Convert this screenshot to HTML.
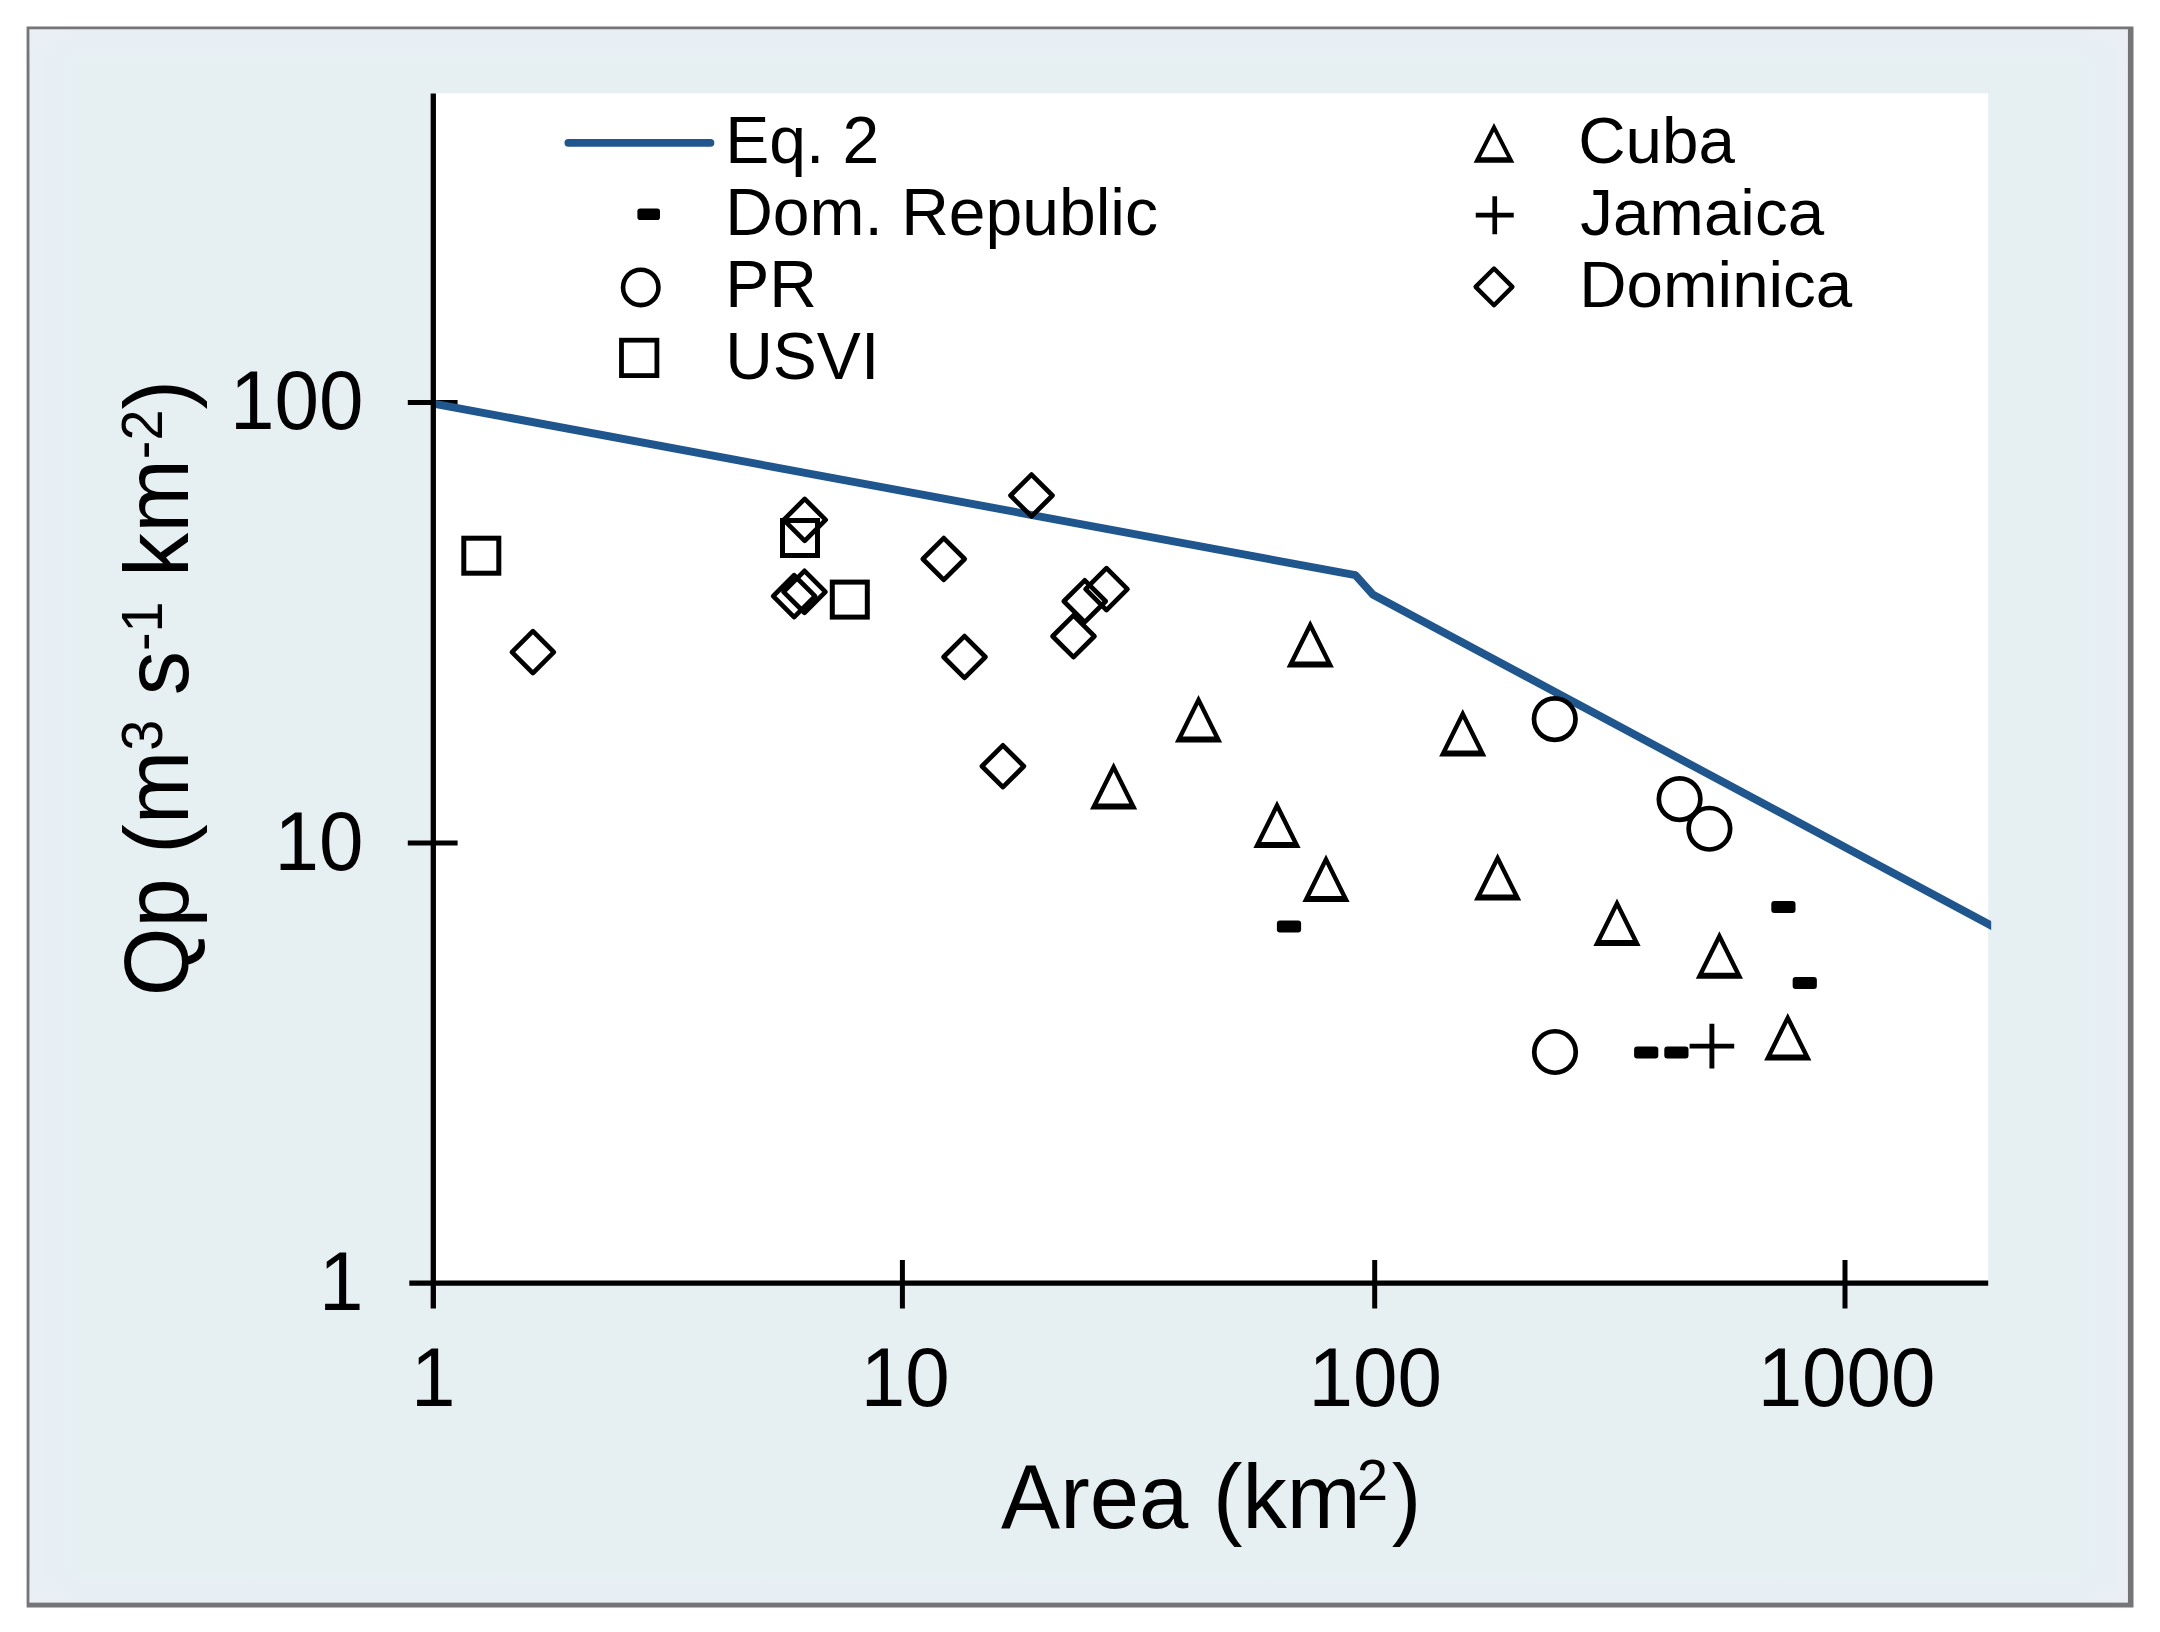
<!DOCTYPE html>
<html lang="en"><head><meta charset="utf-8"><title>Qp vs Area</title>
<style>html,body{margin:0;padding:0;background:#fff;}body{width:2160px;height:1632px;overflow:hidden;}svg{display:block;filter:blur(0.65px);}text{font-family:'Liberation Sans', sans-serif;fill:#000;}</style>
</head><body>
<svg width="2160" height="1632" viewBox="0 0 2160 1632">
<defs>
<linearGradient id="pg" x1="0" y1="0" x2="1" y2="0"><stop offset="0" stop-color="#e9eff5"/><stop offset="0.012" stop-color="#e7eff4"/><stop offset="0.025" stop-color="#e6f0f3"/><stop offset="0.975" stop-color="#e6f0f3"/><stop offset="0.99" stop-color="#e7eff4"/><stop offset="1" stop-color="#ebeff3"/></linearGradient>
<linearGradient id="tg" x1="0" y1="0" x2="0" y2="1"><stop offset="0" stop-color="#eaeef5" stop-opacity="0.55"/><stop offset="1" stop-color="#e9eef6" stop-opacity="0"/></linearGradient>
<linearGradient id="bg" x1="0" y1="1" x2="0" y2="0"><stop offset="0" stop-color="#eaeef5" stop-opacity="0.55"/><stop offset="1" stop-color="#e9eef6" stop-opacity="0"/></linearGradient>
<clipPath id="pc"><rect x="430.3" y="93.3" width="1560.9" height="1199.9"/></clipPath>
</defs>
<rect x="26.6" y="26.5" width="2106.9" height="1581.0" fill="#757578"/>
<rect x="29.5" y="29.4" width="2098.4" height="1573.1" fill="url(#pg)"/>
<rect x="29.5" y="29.4" width="2098.4" height="40" fill="url(#tg)"/>
<rect x="29.5" y="1562.5" width="2098.4" height="40" fill="url(#bg)"/>
<rect x="433.3" y="93.3" width="1554.9" height="1189.9" fill="#fff"/>
<g stroke="#000" fill="none" stroke-linecap="butt">
<path d="M409.3 1283.2H1988.2" stroke-width="5.3"/>
<path d="M407.8 402.5H457.6" stroke-width="5.0"/>
<path d="M407.8 843.0H457.6" stroke-width="5.0"/>
<path d="M902.4 1260.0V1308.5" stroke-width="5.0"/>
<path d="M1374.7 1260.0V1308.5" stroke-width="5.0"/>
<path d="M1845.0 1260.0V1308.5" stroke-width="5.0"/>
</g>
<path clip-path="url(#pc)" d="M433.3 403.6L1355.4 575.2L1372.7 594.4L1995 927.6" fill="none" stroke="#1f568e" stroke-width="7.9" stroke-linejoin="round" stroke-linecap="butt"/>
<path d="M433.3 93.5V1308.5" stroke="#000" stroke-width="5.3" fill="none"/>
<g fill="none" stroke="#000" stroke-width="4.6" stroke-linejoin="miter" stroke-miterlimit="10">
<rect x="463.80" y="538.20" width="35.00" height="35.00" stroke-width="5.0"/>
<rect x="782.50" y="520.50" width="35.00" height="35.00" stroke-width="5.0"/>
<rect x="832.30" y="582.10" width="35.00" height="35.00" stroke-width="5.0"/>
<path d="M532.90 631.15L553.85 652.10L532.90 673.05L511.95 652.10Z" stroke-width="4.7" stroke-linejoin="round"/>
<path d="M804.70 498.95L825.65 519.90L804.70 540.85L783.75 519.90Z" stroke-width="4.7" stroke-linejoin="round"/>
<path d="M794.10 575.25L815.05 596.20L794.10 617.15L773.15 596.20Z" stroke-width="4.7" stroke-linejoin="round"/>
<path d="M804.50 570.85L825.45 591.80L804.50 612.75L783.55 591.80Z" stroke-width="4.7" stroke-linejoin="round"/>
<path d="M943.75 538.05L964.70 559.00L943.75 579.95L922.80 559.00Z" stroke-width="4.7" stroke-linejoin="round"/>
<path d="M964.50 636.05L985.45 657.00L964.50 677.95L943.55 657.00Z" stroke-width="4.7" stroke-linejoin="round"/>
<path d="M1031.50 474.55L1052.45 495.50L1031.50 516.45L1010.55 495.50Z" stroke-width="4.7" stroke-linejoin="round"/>
<path d="M1106.50 568.15L1127.45 589.10L1106.50 610.05L1085.55 589.10Z" stroke-width="4.7" stroke-linejoin="round"/>
<path d="M1084.75 580.30L1105.70 601.25L1084.75 622.20L1063.80 601.25Z" stroke-width="4.7" stroke-linejoin="round"/>
<path d="M1073.50 615.30L1094.45 636.25L1073.50 657.20L1052.55 636.25Z" stroke-width="4.7" stroke-linejoin="round"/>
<path d="M1002.90 745.30L1023.85 766.25L1002.90 787.20L981.95 766.25Z" stroke-width="4.7" stroke-linejoin="round"/>
<path fill="#000" stroke="none" fill-rule="evenodd" d="M1310.25 620.02L1333.85 667.42L1286.65 667.42ZM1310.25 629.90L1325.95 661.42L1294.55 661.42Z"/>
<path fill="#000" stroke="none" fill-rule="evenodd" d="M1198.50 694.97L1222.10 742.38L1174.90 742.38ZM1198.50 704.85L1214.20 736.38L1182.80 736.38Z"/>
<path fill="#000" stroke="none" fill-rule="evenodd" d="M1113.60 762.22L1137.20 809.62L1090.00 809.62ZM1113.60 772.10L1129.30 803.62L1097.90 803.62Z"/>
<path fill="#000" stroke="none" fill-rule="evenodd" d="M1277.00 800.60L1300.60 848.00L1253.40 848.00ZM1277.00 810.47L1292.70 842.00L1261.30 842.00Z"/>
<path fill="#000" stroke="none" fill-rule="evenodd" d="M1326.00 854.47L1349.60 901.88L1302.40 901.88ZM1326.00 864.35L1341.70 895.88L1310.30 895.88Z"/>
<path fill="#000" stroke="none" fill-rule="evenodd" d="M1462.75 709.10L1486.35 756.50L1439.15 756.50ZM1462.75 718.97L1478.45 750.50L1447.05 750.50Z"/>
<path fill="#000" stroke="none" fill-rule="evenodd" d="M1497.60 853.22L1521.20 900.62L1474.00 900.62ZM1497.60 863.10L1513.30 894.62L1481.90 894.62Z"/>
<path fill="#000" stroke="none" fill-rule="evenodd" d="M1617.00 898.47L1640.60 945.88L1593.40 945.88ZM1617.00 908.35L1632.70 939.88L1601.30 939.88Z"/>
<path fill="#000" stroke="none" fill-rule="evenodd" d="M1719.40 931.35L1743.00 978.75L1695.80 978.75ZM1719.40 941.22L1735.10 972.75L1703.70 972.75Z"/>
<path fill="#000" stroke="none" fill-rule="evenodd" d="M1787.75 1012.97L1811.35 1060.38L1764.15 1060.38ZM1787.75 1022.85L1803.45 1054.38L1772.05 1054.38Z"/>
<circle cx="1554.75" cy="719.10" r="20.75" stroke-width="4.7"/>
<circle cx="1679.60" cy="799.10" r="20.75" stroke-width="4.7"/>
<circle cx="1709.40" cy="828.75" r="20.75" stroke-width="4.7"/>
<circle cx="1555.00" cy="1052.00" r="20.75" stroke-width="4.7"/>
<path d="M1689.60 1046.10H1734.20M1711.90 1023.80V1068.40" stroke-width="4.9"/>
</g>
<g fill="#000" stroke="none">
<rect x="1276.90" y="920.50" width="24.2" height="12.0" rx="3.0" ry="3.0"/>
<rect x="1771.30" y="900.90" width="24.2" height="12.0" rx="3.0" ry="3.0"/>
<rect x="1792.65" y="976.90" width="24.2" height="12.0" rx="3.0" ry="3.0"/>
<rect x="1634.10" y="1046.60" width="24.2" height="12.0" rx="3.0" ry="3.0"/>
<rect x="1664.30" y="1046.60" width="24.2" height="12.0" rx="3.0" ry="3.0"/>
</g>
<path d="M568.4 142.85H710.4" stroke="#1f568e" stroke-width="7.9" stroke-linecap="round" fill="none"/>
<g fill="#000" stroke="none"><rect x="637.40" y="208.40" width="22.6" height="11.6" rx="2.8" ry="2.8"/></g>
<g fill="none" stroke="#000" stroke-width="4.6" stroke-linejoin="miter">
<circle cx="640.75" cy="287.40" r="17.70" stroke-width="4.6"/>
<rect x="621.50" y="340.20" width="35.40" height="35.40" stroke-width="4.8"/>
<path fill="#000" stroke="none" fill-rule="evenodd" d="M1494.00 122.90L1514.35 162.70L1473.65 162.70ZM1494.00 131.69L1507.10 157.30L1480.90 157.30Z"/>
<path d="M1475.75 215.20H1513.75M1494.75 196.20V234.20" stroke-width="4.7"/>
<path d="M1494.00 268.50L1512.40 286.90L1494.00 305.30L1475.60 286.90Z" stroke-width="4.4" stroke-linejoin="round"/>
</g>
<text x="725.2" y="163.1" font-size="66" text-anchor="start">Eq. 2</text>
<text x="725.2" y="235.2" font-size="66" text-anchor="start">Dom. Republic</text>
<text x="725.2" y="307.1" font-size="66" text-anchor="start">PR</text>
<text x="725.2" y="379.3" font-size="66" text-anchor="start">USVI</text>
<text x="1578.3" y="163.1" font-size="65.5" text-anchor="start">Cuba</text>
<text x="1580.2" y="235.2" font-size="65.5" text-anchor="start">Jamaica</text>
<text x="1579.3" y="307.1" font-size="65.5" text-anchor="start">Dominica</text>
<text transform="translate(363.5 428.7) scale(1 1.045)" font-size="80" text-anchor="end">100</text>
<text transform="translate(363.5 869.5) scale(1 1.045)" font-size="80" text-anchor="end">10</text>
<text transform="translate(363.5 1309.6) scale(1 1.045)" font-size="80" text-anchor="end">1</text>
<text transform="translate(433.3 1406.3) scale(1 1.045)" font-size="80" text-anchor="middle">1</text>
<text transform="translate(905.3 1406.3) scale(1 1.045)" font-size="80" text-anchor="middle">10</text>
<text transform="translate(1375.3 1406.3) scale(1 1.045)" font-size="80" text-anchor="middle">100</text>
<text transform="translate(1846.6 1406.3) scale(1 1.045)" font-size="80" text-anchor="middle">1000</text>
<text transform="translate(1211.1 1528) scale(0.985 1)" font-size="90" text-anchor="middle">Area (km<tspan font-size="56.7" dy="-28.4" dx="-3.5">2</tspan><tspan dy="28.4" dx="3.5">)</tspan></text>
<text transform="translate(188.3 688.2) rotate(-90) scale(0.982 1)" font-size="90" text-anchor="middle">Qp (m<tspan font-size="56.7" dy="-26.8">3</tspan><tspan dy="26.8"> s</tspan><tspan font-size="56.7" dy="-26.8">-1</tspan><tspan dy="26.8"> km</tspan><tspan font-size="56.7" dy="-26.8">-2</tspan><tspan dy="26.8">)</tspan></text>
</svg>
</body></html>
